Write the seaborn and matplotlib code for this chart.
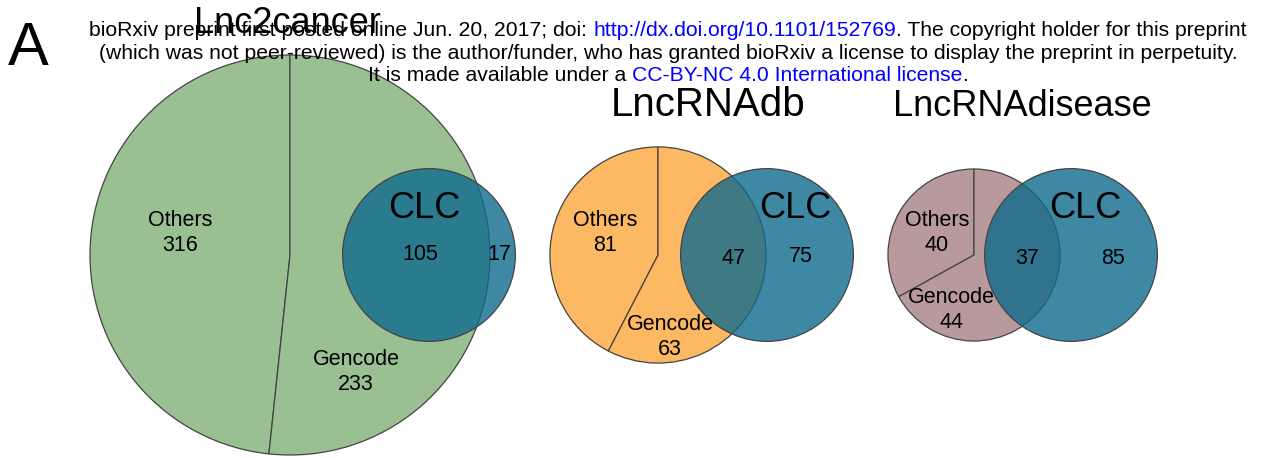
import numpy as np
import seaborn as sns
import matplotlib.pyplot as plt
from matplotlib.patches import Circle

# counts per database
databases = ["Lnc2cancer", "LncRNAdb", "LncRNAdisease"]
others = [316, 81, 40]
gencode_only = [233, 63, 44]
shared_clc = [105, 47, 37]
clc_only = [17, 75, 85]

db_colors = ["#99BF93", "#FDB863", "#B89A9C"]
clc_color = (15 / 255, 106 / 255, 140 / 255, 0.8)
edge = "#444444"

header_lines = [
    [("bioRxiv preprint first posted online Jun. 20, 2017; doi: ", "black"),
     ("http://dx.doi.org/10.1101/152769", "blue"),
     (". The copyright holder for this preprint", "black")],
    [("(which was not peer-reviewed) is the author/funder, who has granted bioRxiv a license to display the preprint in perpetuity.", "black")],
    [("It is made available under a ", "black"),
     ("CC-BY-NC 4.0 International license", "blue"),
     (".", "black")],
]

W, H = 1265, 459
SCALE = 200 / np.sqrt(654)  # px radius per sqrt(count)
db_x = [290, 658, 974]
clc_x = [429, 767, 1071]
cy = 255
title_pos = [(287, 33), (708, 116), (1022, 116)]
title_size = [26, 29, 26]
clc_label = [(424, 208), (795, 208), (1085, 208)]


def Y(y):
    return H - y


sns.set_theme(style="white")
plt.rcParams['font.family'] = ['Liberation Sans', 'DejaVu Sans']
plt.rcParams['text.color'] = 'black'

fig = plt.figure(figsize=(W / 100, H / 100), dpi=100)
ax = fig.add_axes([0, 0, 1, 1])

for i, name in enumerate(databases):
    gencode_total = gencode_only[i] + shared_clc[i]
    r_db = SCALE * np.sqrt(others[i] + gencode_total)
    r_clc = SCALE * np.sqrt(shared_clc[i] + clc_only[i])
    ax.pie([others[i], gencode_total], colors=[db_colors[i]] * 2,
           startangle=90, counterclock=True, center=(db_x[i], Y(cy)),
           radius=r_db, wedgeprops=dict(edgecolor=edge, linewidth=0.9))
    ax.add_patch(Circle((clc_x[i], Y(cy)), r_clc, facecolor=clc_color,
                        edgecolor=edge, linewidth=0.9, zorder=3))
    ax.text(title_pos[i][0], Y(title_pos[i][1]), name, fontsize=title_size[i],
            color='black', ha='center', va='baseline', zorder=6)
    ax.text(clc_label[i][0], Y(clc_label[i][1]), "CLC", fontsize=26,
            color='black', ha='center', va='center', zorder=5)

lbl = dict(fontsize=15.5, color='black', ha='center', va='center',
           zorder=5, linespacing=1.25)
others_pos = [(180, 233), (605, 233), (937, 233)]
gencode_pos = [(356, 372), (670, 337), (951, 310)]
shared_pos = [(420, 255), (733, 258), (1027, 258)]
only_pos = [(499, 255), (801, 257), (1113, 258)]
for i in range(3):
    ax.text(others_pos[i][0], Y(others_pos[i][1]), f"Others\n{others[i]}", **lbl)
    ax.text(gencode_pos[i][0], Y(gencode_pos[i][1]), f"Gencode\n{gencode_only[i]}", **lbl)
    ax.text(shared_pos[i][0], Y(shared_pos[i][1]), str(shared_clc[i]), **lbl)
    ax.text(only_pos[i][0], Y(only_pos[i][1]), str(clc_only[i]), **lbl)

ax.text(8, Y(65), "A", fontsize=44, color='black', ha='left', va='baseline')

ax.set_xlim(0, W)
ax.set_ylim(0, H)
ax.set_aspect('auto')
ax.axis('off')

# bioRxiv stamp, centred, with blue link segments
renderer = fig.canvas.get_renderer()
HS = 15.2


def width_px(s):
    t = fig.text(0, 0, s + "|", fontsize=HS)
    w = t.get_window_extent(renderer).width
    t.remove()
    return w


bar_w = width_px("")
for segs, base in zip(header_lines, [36, 59, 81]):
    full = "".join(s for s, _ in segs)
    left = 668 - (width_px(full) - bar_w) / 2
    prefix = ""
    for s, c in segs:
        x = left + (width_px(prefix) - bar_w if prefix else 0)
        ax.text(x, Y(base), s, fontsize=HS, color=c, ha='left',
                va='baseline', zorder=7)
        prefix += s

fig.savefig("out.png", dpi=100)
